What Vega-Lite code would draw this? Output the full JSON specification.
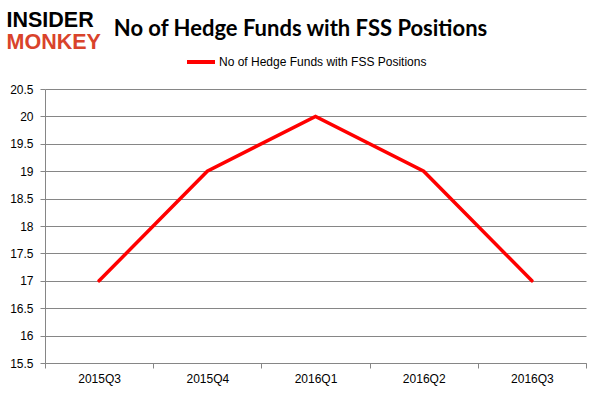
{
  "$schema": "https://vega.github.io/schema/vega-lite/v6.json",
  "width": 541,
  "height": 274,
  "autosize": {"type": "none"},
  "padding": {"left": 45, "top": 89, "right": 15, "bottom": 32},
  "background": "white",
  "title": {
    "text": "No of Hedge Funds with FSS Positions",
    "font": "Lato",
    "fontSize": 22,
    "fontWeight": "bold",
    "color": "#000000",
    "anchor": "middle",
    "frame": "group",
    "dx": -15,
    "dy": 53,
    "baseline": "alphabetic"
  },
  "data": {
    "values": [
      {"quarter": "2015Q3", "funds": 17, "series": "No of Hedge Funds with FSS Positions"},
      {"quarter": "2015Q4", "funds": 19, "series": "No of Hedge Funds with FSS Positions"},
      {"quarter": "2016Q1", "funds": 20, "series": "No of Hedge Funds with FSS Positions"},
      {"quarter": "2016Q2", "funds": 19, "series": "No of Hedge Funds with FSS Positions"},
      {"quarter": "2016Q3", "funds": 17, "series": "No of Hedge Funds with FSS Positions"}
    ]
  },
  "mark": {"type": "line", "strokeWidth": 3.5, "strokeCap": "round", "strokeJoin": "miter"},
  "encoding": {
    "x": {
      "field": "quarter",
      "type": "ordinal",
      "scale": {"type": "band", "paddingInner": 0, "paddingOuter": 0},
      "axis": {
        "title": "INSIDER",
        "titleFont": "Liberation Sans",
        "titleFontSize": 21.5,
        "titleFontWeight": "bold",
        "titleColor": "#000000",
        "titleX": -39,
        "titleY": -337,
        "titleAlign": "left",
        "titleBaseline": "alphabetic",
        "titleAngle": 0,
        "labelAngle": 0,
        "labelFont": "Liberation Sans",
        "labelFontSize": 12,
        "labelColor": "#000000",
        "labelPadding": 5,
        "domainColor": "#868686",
        "tickColor": "#868686",
        "tickSize": 5,
        "tickBand": "extent",
        "grid": false
      }
    },
    "y": {
      "field": "funds",
      "type": "quantitative",
      "scale": {"domain": [15.5, 20.5], "nice": false, "zero": false},
      "axis": {
        "title": "MONKEY",
        "titleFont": "Liberation Sans",
        "titleFontSize": 21.5,
        "titleFontWeight": "bold",
        "titleColor": "#D9432B",
        "titleX": -39,
        "titleY": -41,
        "titleAlign": "left",
        "titleBaseline": "alphabetic",
        "titleAngle": 0,
        "values": [15.5, 16, 16.5, 17, 17.5, 18, 18.5, 19, 19.5, 20, 20.5],
        "format": "~g",
        "labelFont": "Liberation Sans",
        "labelFontSize": 12,
        "labelColor": "#000000",
        "labelPadding": 7,
        "domainColor": "#868686",
        "tickColor": "#868686",
        "tickSize": 5,
        "grid": true,
        "gridColor": "#868686"
      }
    },
    "color": {
      "field": "series",
      "type": "nominal",
      "scale": {"range": ["#FF0000"]},
      "legend": {
        "title": null,
        "orient": "none",
        "legendX": 140,
        "legendY": -43,
        "padding": 0,
        "symbolType": "stroke",
        "symbolSize": 784,
        "symbolStrokeWidth": 4,
        "labelFont": "Liberation Sans",
        "labelFontSize": 12,
        "labelColor": "#000000",
        "labelOffset": 2,
        "labelLimit": 400
      }
    }
  },
  "config": {
    "view": {"stroke": null}
  }
}
